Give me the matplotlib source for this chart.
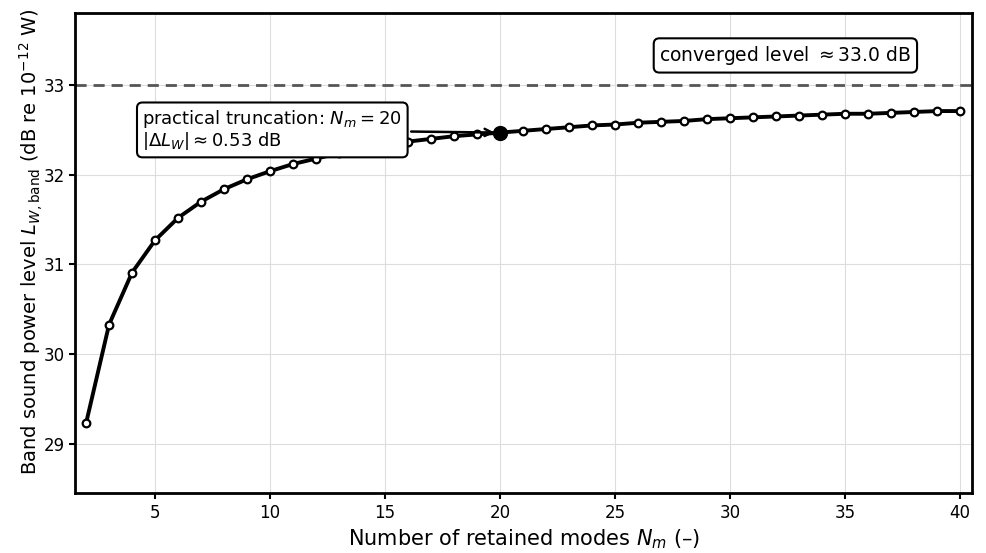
import numpy as np
import matplotlib
matplotlib.use("Agg")
from matplotlib import pyplot as plt

# band power level vs. number of retained modes
n_modes = list(range(2, 41))
lw_band = [29.23, 30.33, 30.91, 31.27, 31.52, 31.70, 31.84, 31.95, 32.04, 32.12,
           32.18, 32.24, 32.29, 32.33, 32.37, 32.40, 32.43, 32.45, 32.47, 32.49,
           32.51, 32.53, 32.55, 32.56, 32.58, 32.59, 32.60, 32.62, 32.63, 32.64,
           32.65, 32.66, 32.67, 32.68, 32.68, 32.69, 32.70, 32.71, 32.71]
converged = 33.0
n_trunc = 20
delta_lw = 0.53

fig = plt.figure(figsize=(9.87, 5.53), dpi=100)
ax = fig.add_axes([0.076, 0.108, 0.909, 0.868])

ax.plot(n_modes, lw_band, color="black", lw=2.8, marker="o", ms=5.5,
        mfc="white", mec="black", mew=1.6, zorder=3)
ax.axhline(converged, color="#555555", lw=2, ls=(0, (4, 2.5)), zorder=2)

y_trunc = lw_band[n_modes.index(n_trunc)]
ax.plot([n_trunc], [y_trunc], "o", color="black", ms=10, zorder=4)

ax.annotate("practical truncation: $N_m = 20$\n$|\\Delta L_W| \\approx %.2f$ dB" % delta_lw,
            xy=(n_trunc, y_trunc), xytext=(4.45, 32.50), fontsize=13,
            ha="left", va="center", linespacing=1.0,
            bbox=dict(boxstyle="round,pad=0.3", fc="white", ec="black", lw=1.5),
            arrowprops=dict(arrowstyle="->", color="black", lw=1.8,
                            shrinkB=4), zorder=5)

ax.text(32.4, 33.33, "converged level $\\approx %.1f$ dB" % converged, fontsize=13.5,
        ha="center", va="center",
        bbox=dict(boxstyle="round,pad=0.3", fc="white", ec="black", lw=1.5))

ax.set_xlim(1.52, 40.52)
ax.set_ylim(28.45, 33.8)
ax.set_xticks([5, 10, 15, 20, 25, 30, 35, 40])
ax.set_yticks([29, 30, 31, 32, 33])
ax.tick_params(labelsize=12, width=1.5, length=4)
ax.grid(True, color="#dddddd", lw=0.8)
ax.set_axisbelow(True)
for sp in ax.spines.values():
    sp.set_linewidth(2)

ax.set_xlabel("Number of retained modes $N_m$ (–)", fontsize=15)
ax.set_ylabel("Band sound power level $L_{W,\\mathrm{band}}$ (dB re $10^{-12}$ W)",
              fontsize=14, labelpad=-1)
ax.yaxis.label.set_y(0.525)

fig.savefig("out.png", dpi=100)
